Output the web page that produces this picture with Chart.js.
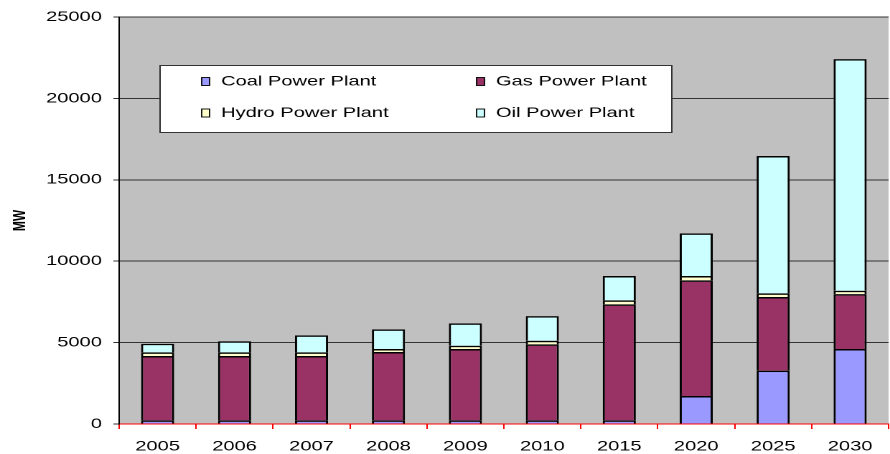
<!DOCTYPE html>
<html>
<head>
  <title>Installed capacity</title>
  <script src="https://cdn.jsdelivr.net/npm/chart.js"></script>
  <style>
    body { margin: 0; background: #fff; overflow: hidden; }
    /* the original picture has its text stretched wide, so draw narrow and stretch */
    #wrap { width: 620px; height: 454px; transform: scaleX(1.4355); transform-origin: 0 0; }
  </style>
</head>
<body>
  <div id="wrap"><canvas id="capChart"></canvas></div>

  <script>
    const years = ['2005', '2006', '2007', '2008', '2009', '2010', '2015', '2020', '2025', '2030'];
    const coal  = [220, 220, 220, 220, 220, 220, 220, 1720, 3275, 4605];
    const gas   = [3955, 3955, 3955, 4200, 4385, 4670, 7130, 7105, 4525, 3375];
    const hydro = [225, 225, 225, 185, 205, 225, 245, 265, 225, 205];
    const oil   = [530, 680, 1045, 1210, 1370, 1515, 1495, 2620, 8435, 14225];
    const yTicks = [0, 5000, 10000, 15000, 20000, 25000];

    const FONT = 'Liberation Sans, Arial, sans-serif';

    const plotBg = {
      id: 'plotBg',
      beforeDraw(chart) {
        const { ctx, chartArea: a } = chart;
        ctx.save();
        ctx.fillStyle = '#C0C0C0';
        ctx.fillRect(a.left, a.top, a.right - a.left, a.bottom - a.top);
        ctx.restore();
      }
    };

    // legend box sitting inside the plot, two columns
    const boxLegend = {
      id: 'boxLegend',
      afterDraw(chart) {
        const ctx = chart.ctx;
        const ds = chart.data.datasets;
        ctx.save();
        ctx.fillStyle = '#fff';
        ctx.fillRect(111.5, 65, 356.5, 67.5);
        ctx.strokeStyle = '#333';
        ctx.lineWidth = 1;
        ctx.strokeRect(111.5, 65.5, 356.5, 67);
        ctx.font = '14px ' + FONT;
        ctx.textBaseline = 'middle';
        const cols = [140.5, 332];
        const rows = [81.5, 113];
        ds.forEach((d, i) => {
          const x = cols[i % 2], y = rows[Math.floor(i / 2)];
          ctx.fillStyle = d.backgroundColor;
          ctx.fillRect(x, y - 4, 5.5, 8);
          ctx.strokeStyle = '#000';
          ctx.lineWidth = 0.9;
          ctx.strokeRect(x, y - 4, 5.5, 8);
          ctx.fillStyle = '#000';
          ctx.fillText(d.label, x + 13.5, y);
        });
        ctx.restore();
      }
    };

    function bars(label, data, color) {
      return {
        label: label,
        data: data,
        backgroundColor: color,
        borderColor: '#000',
        // one line between stacked pieces, like the original
        borderWidth: { top: 1.5, left: 1.5, right: 1.5, bottom: 0 },
        borderSkipped: false,
        barPercentage: 0.43,
        categoryPercentage: 1
      };
    }

    new Chart(document.getElementById('capChart'), {
      type: 'bar',
      data: {
        labels: years,
        datasets: [
          bars('Coal Power Plant', coal, '#9999FF'),
          bars('Gas Power Plant', gas, '#993366'),
          bars('Hydro Power Plant', hydro, '#FFFFCC'),
          bars('Oil Power Plant', oil, '#CCFFFF')
        ]
      },
      options: {
        responsive: true,
        maintainAspectRatio: false,
        devicePixelRatio: 2,
        animation: false,
        layout: { padding: { top: 17, right: 1, left: 0, bottom: 0 } },
        plugins: {
          legend: { display: false },
          tooltip: { enabled: false }
        },
        scales: {
          x: {
            stacked: true,
            grid: { drawOnChartArea: false, offset: true, color: '#FF0000', tickLength: 5 },
            border: { color: '#FF0000', width: 1 },
            ticks: { color: '#000', font: { family: FONT, size: 14 }, padding: 9, maxRotation: 0 },
            afterFit(s) { s.height = 30; }
          },
          y: {
            stacked: true,
            min: 0,
            max: 25000,
            afterBuildTicks(s) { s.ticks = yTicks.map(v => ({ value: v })); },
            grid: { color: '#333', tickLength: 4 },
            border: { color: '#000', width: 1 },
            ticks: { color: '#000', font: { family: FONT, size: 14 }, padding: 8, callback: v => String(v) },
            title: { display: true, text: 'MW', color: '#000', font: { family: FONT, size: 12, weight: 'bold' }, padding: { top: 7, bottom: 0 } },
            afterFit(s) { s.width = 83; }
          }
        }
      },
      plugins: [plotBg, boxLegend]
    });
  </script>
</body>
</html>
